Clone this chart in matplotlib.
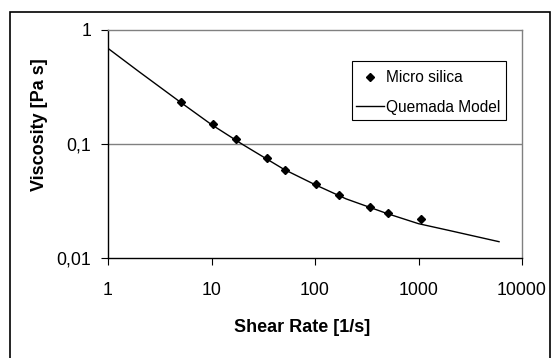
import matplotlib
matplotlib.use("Agg")
import matplotlib.pyplot as plt
from matplotlib.patches import Rectangle
from matplotlib.ticker import FixedLocator, FixedFormatter, NullLocator

plt.rcParams['font.family'] = ['Liberation Sans', 'DejaVu Sans']

# measured points (Micro silica)
shear_rate = [5.1, 10.3, 17.3, 34, 51, 103, 170, 340, 510, 1050]
viscosity = [0.232, 0.149, 0.111, 0.0748, 0.059, 0.0443, 0.0357, 0.0279, 0.025, 0.0218]

# Quemada model curve
model_rate = [1, 2, 5, 10, 20, 50, 100, 200, 500, 1000, 2000, 6000]
model_visc = [0.69, 0.43, 0.233, 0.148, 0.099, 0.060, 0.044, 0.033, 0.0245, 0.0200, 0.0174, 0.0139]

x_ticks = [1, 10, 100, 1000, 10000]
x_labels = ['1', '10', '100', '1000', '10000']
y_ticks = [0.01, 0.1, 1]
y_labels = ['0,01', '0,1', '1']

W, H = 552, 358
fig = plt.figure(figsize=(W / 100, H / 100), dpi=100)
ax = fig.add_axes([108 / W, 1 - 258 / H, (522 - 108) / W, (258 - 30) / H])

# outer chart frame
fig.patches.append(Rectangle((10 / W, -0.02), 540 / W, 1.02 - 12 / H,
                             transform=fig.transFigure, fill=False,
                             edgecolor='black', linewidth=1.2))

ax.set_xscale('log')
ax.set_yscale('log')
ax.set_xlim(1, 10000)
ax.set_ylim(0.01, 1)

ax.plot(model_rate, model_visc, color='black', linewidth=1.0, label='Quemada Model')
ax.plot(shear_rate, viscosity, linestyle='none', marker='D', markersize=4.5,
        color='black', label='Micro silica')

ax.axhline(0.1, color='#808080', linewidth=1.0, zorder=0)

ax.xaxis.set_major_locator(FixedLocator(x_ticks))
ax.xaxis.set_major_formatter(FixedFormatter(x_labels))
ax.xaxis.set_minor_locator(NullLocator())
ax.yaxis.set_major_locator(FixedLocator(y_ticks))
ax.yaxis.set_major_formatter(FixedFormatter(y_labels))
ax.yaxis.set_minor_locator(NullLocator())

ax.tick_params(axis='x', direction='out', length=5, width=0.8, pad=12, labelsize=12.8)
ax.tick_params(axis='y', direction='out', length=5, width=0.8, pad=7, labelsize=12.8)

for s in ['top', 'right']:
    ax.spines[s].set_color('#808080')
for s in ['left', 'bottom']:
    ax.spines[s].set_color('black')
for s in ax.spines.values():
    s.set_linewidth(1.0)

ax.set_xlabel('Shear Rate [1/s]', fontsize=13, fontweight='bold')
ax.set_ylabel('Viscosity [Pa s]', fontsize=13, fontweight='bold')
# titles sit a bit off-centre like in the original
ax.xaxis.set_label_coords((302 - 108) / 414, (258 - 328) / 228)
ax.xaxis.label.set_va('center')
ax.yaxis.set_label_coords((40 - 108) / 414, (258 - 125) / 228)
ax.yaxis.label.set_va('center')

# legend: frame drawn separately so its box matches the original
box = Rectangle((352 / W, 1 - 120 / H), 154 / W, 59 / H,
                transform=fig.transFigure, fill=True, facecolor='white',
                edgecolor='black', linewidth=0.8, zorder=4)
ax.add_artist(box)
handles, labels = ax.get_legend_handles_labels()
leg = ax.legend(handles[::-1], labels[::-1], loc='upper left',
                bbox_to_anchor=(356 / W, 1 - 70 / H), bbox_transform=fig.transFigure,
                fontsize=11.2, frameon=False, borderpad=0, handlelength=1.8,
                handletextpad=0.1, labelspacing=0.95, borderaxespad=0, markerscale=0.8)
leg.set_zorder(5)

fig.savefig('out.png', dpi=100)
